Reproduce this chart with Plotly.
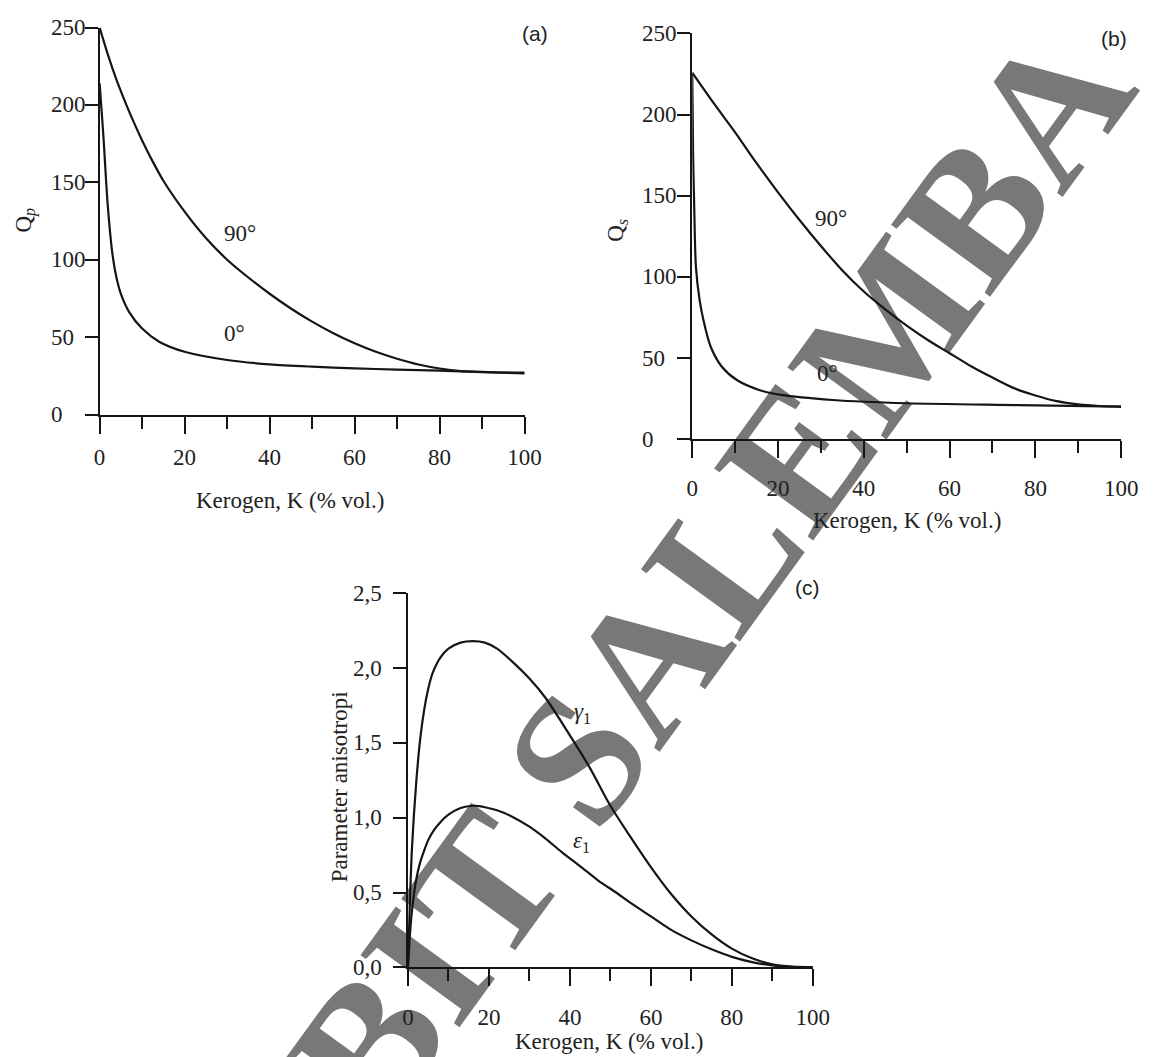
import plotly.graph_objects as go

# ---------------- data ----------------
# (a) P-wave quality factor vs kerogen content
kp_90 = [0, 2, 4, 6, 8, 10, 12, 15, 20, 25, 30, 35, 40, 45, 50, 55, 60, 65, 70, 75, 80, 85, 90, 100]
qp_90 = [250, 232, 216, 202, 189, 177, 166, 151, 131, 114, 100, 88.5, 78, 68.5, 60, 52.5, 46, 40.5, 36, 32.3, 29.7, 28, 27.3, 27]
kp_0 = [0, 0.5, 1, 1.5, 2, 3, 4, 5, 7, 10, 14, 20, 30, 40, 50, 60, 70, 80, 90, 100]
qp_0 = [214, 195, 175, 152, 132, 104, 88, 78, 66, 55.5, 47, 40.5, 35.2, 32.4, 30.9, 29.8, 29, 28.3, 27.5, 26.5]

# (b) S-wave quality factor vs kerogen content
ks_90 = [0, 5, 10, 15, 20, 25, 30, 35, 40, 45, 50, 55, 60, 65, 70, 75, 80, 85, 90, 95, 100]
qs_90 = [225.8, 207, 189, 170, 152, 135, 119, 104, 91, 80, 70, 61, 53, 45, 38, 31.5, 27, 23.5, 21.5, 20.5, 20.1]
ks_0 = [0, 0.2, 0.43, 0.86, 1.7, 2.6, 4.3, 6.9, 10.4, 15.6, 20.7, 32.8, 50, 76, 100]
qs_0 = [225, 175, 147, 106, 86, 73.5, 57, 44.7, 36.5, 30.4, 27.3, 24.2, 22.2, 21.1, 20.1]

# (c) anisotropy parameters vs kerogen content
kc_g = [0, 0.5, 1, 2, 3, 4, 5, 6, 8, 10, 13, 16, 19, 22, 25.5, 30, 34, 40, 45, 50, 55, 60, 65, 70, 75, 80, 85, 90, 95, 100]
gamma1 = [0, 0.45, 0.8, 1.22, 1.52, 1.72, 1.86, 1.96, 2.07, 2.13, 2.17, 2.18, 2.17, 2.13, 2.05, 1.93, 1.80,
          1.55, 1.33, 1.08, 0.87, 0.67, 0.49, 0.34, 0.22, 0.125, 0.06, 0.02, 0.004, 0]
kc_e = [0, 0.5, 1, 2, 3, 4, 5, 6.5, 8, 10, 13, 16, 19, 22, 25.5, 30, 34, 38, 42.8, 47, 51.4, 55, 60, 65, 70,
        75, 80, 85, 90, 95, 100]
eps1 = [0, 0.22, 0.38, 0.58, 0.70, 0.78, 0.85, 0.92, 0.97, 1.02, 1.065, 1.08, 1.07, 1.05, 1.01, 0.94, 0.86,
        0.77, 0.67, 0.58, 0.50, 0.43, 0.34, 0.25, 0.18, 0.12, 0.07, 0.035, 0.012, 0.002, 0]

x_ticks = [0, 20, 40, 60, 80, 100]
x_minor = [10, 30, 50, 70, 90]
q_ticks = [0, 50, 100, 150, 200, 250]
q_labels = ["0", "50", "100", "150", "200", "250"]
c_ticks = [0, 0.5, 1.0, 1.5, 2.0, 2.5]
c_labels = ["0,0", "0,5", "1,0", "1,5", "2,0", "2,5"]
x_title = "Kerogen, K (% vol.)"

# ---------------- styling ----------------
W, H = 1171, 1057
INK = "#151515"
SERIF = "Liberation Serif, Times New Roman, serif"
SANS = "Liberation Sans Narrow, Liberation Sans, Arial, sans-serif"
FS = 23


def px(x):
    return x / W


def py(y):
    return 1 - y / H


line_style = dict(color=INK, width=2.2, shape="spline", smoothing=0.8)

fig = go.Figure()
fig.add_trace(go.Scatter(x=kp_90, y=qp_90, mode="lines", line=line_style, xaxis="x", yaxis="y"))
fig.add_trace(go.Scatter(x=kp_0, y=qp_0, mode="lines", line=line_style, xaxis="x", yaxis="y"))
fig.add_trace(go.Scatter(x=ks_90, y=qs_90, mode="lines", line=line_style, xaxis="x2", yaxis="y2"))
fig.add_trace(go.Scatter(x=ks_0, y=qs_0, mode="lines", line=line_style, xaxis="x2", yaxis="y2"))
fig.add_trace(go.Scatter(x=kc_g, y=gamma1, mode="lines", line=line_style, xaxis="x3", yaxis="y3"))
fig.add_trace(go.Scatter(x=kc_e, y=eps1, mode="lines", line=line_style, xaxis="x3", yaxis="y3"))


def xaxis(domain, anchor, standoff):
    return dict(
        domain=domain, anchor=anchor, range=[0, 100],
        showline=True, linecolor=INK, linewidth=2,
        ticks="outside", tickvals=x_ticks, ticklen=17, tickwidth=1.6, tickcolor=INK,
        minor=dict(tickvals=x_minor, ticks="outside", ticklen=12, tickwidth=1.6, tickcolor=INK),
        showgrid=False, zeroline=False,
        tickfont=dict(family=SERIF, size=FS, color="#222"),
        ticklabelstandoff=standoff,
    )


def yaxis(domain, anchor, rng, vals):
    return dict(
        domain=domain, anchor=anchor, range=rng,
        showline=True, linecolor=INK, linewidth=2,
        ticks="outside", tickvals=vals, ticklen=13, tickwidth=1.6, tickcolor=INK,
        showticklabels=False, showgrid=False, zeroline=False,
    )


# panel frames in pixel space
A = dict(x0=95.5, x1=529, y0=414.5, y1=27.5)
B = dict(x0=700, x1=1137.5, y0=439.3, y1=33.3)
C = dict(x0=410, x1=823, y0=967.3, y1=593.3)

fig.update_layout(
    xaxis=xaxis([px(A["x0"]), px(A["x1"])], "y", 4),
    yaxis=yaxis([py(A["y0"]), py(A["y1"])], "x", [0, 250], q_ticks),
    xaxis2=xaxis([px(B["x0"]), px(B["x1"])], "y2", 10),
    yaxis2=yaxis([py(B["y0"]), py(B["y1"])], "x2", [0, 250], q_ticks),
    xaxis3=xaxis([px(C["x0"]), px(C["x1"])], "y3", 11),
    yaxis3=yaxis([py(C["y0"]), py(C["y1"])], "x3", [0, 2.5], c_ticks),
)

ann = []
txt = dict(family=SERIF, size=FS, color="#222")

# y tick labels, left aligned
for yref, xleft, vals, labels in [("y", 44, q_ticks, q_labels), ("y2", 647, q_ticks, q_labels),
                                  ("y3", 352, c_ticks, c_labels)]:
    for v, t in zip(vals, labels):
        ann.append(dict(x=px(xleft), xref="paper", y=v, yref=yref, text=t, showarrow=False,
                        xanchor="left", yanchor="middle", font=txt))

# axis titles
titles = [
    dict(x=px(290), y=py(500), text=x_title),
    dict(x=px(919), y=py(520), text=x_title),
    dict(x=px(615), y=py(1041), text=x_title),
    dict(x=px(20), y=py(220), text="Q<sub><i>p</i></sub>", textangle=-90),
    dict(x=px(623), y=py(230), text="Q<sub><i>s</i></sub>", textangle=-90),
    dict(x=px(340), y=py(787), text="Parameter anisotropi", textangle=-90),
]
for a in titles:
    a.update(xref="paper", yref="paper", showarrow=False, font=txt, xanchor="center", yanchor="middle")
ann += titles

# curve labels
for xr, yr, x, y, t in [("x", "y", 33, 117, "90°"), ("x", "y", 31.8, 52.5, "0°"),
                        ("x2", "y2", 32.4, 136, "90°"), ("x2", "y2", 31.5, 40.6, "0°"),
                        ("x3", "y3", 43.2, 1.70, "<i>γ</i><sub>1</sub>"),
                        ("x3", "y3", 42.8, 0.84, "<i>ε</i><sub>1</sub>")]:
    ann.append(dict(x=x, y=y, xref=xr, yref=yr, text=t, showarrow=False, font=txt))

# panel letters
for x, y, t in [(540, 20, "(a)"), (1146, 25, "(b)"), (832, 587, "(c)")]:
    ann.append(dict(x=px(x), y=py(y), xref="paper", yref="paper", text=t, showarrow=False,
                    font=dict(family=SANS, size=21, color="#222")))

fig.update_layout(annotations=ann)

# publisher watermark, kept beneath the plotted lines
fig.add_shape(
    type="rect", xref="paper", yref="paper",
    x0=px(692), x1=px(712), y0=py(572), y1=py(552),
    line=dict(width=0), fillcolor="rgba(0,0,0,0)", layer="below",
    label=dict(text="BIT SALEMBA", textangle=-54, textposition="middle center",
               font=dict(family=SERIF, size=187, color="#787878", weight="bold")),
)

fig.update_layout(
    width=W, height=H, showlegend=False,
    margin=dict(l=0, r=0, t=0, b=0),
    paper_bgcolor="white", plot_bgcolor="rgba(0,0,0,0)",
)

fig.write_html("out.html")
